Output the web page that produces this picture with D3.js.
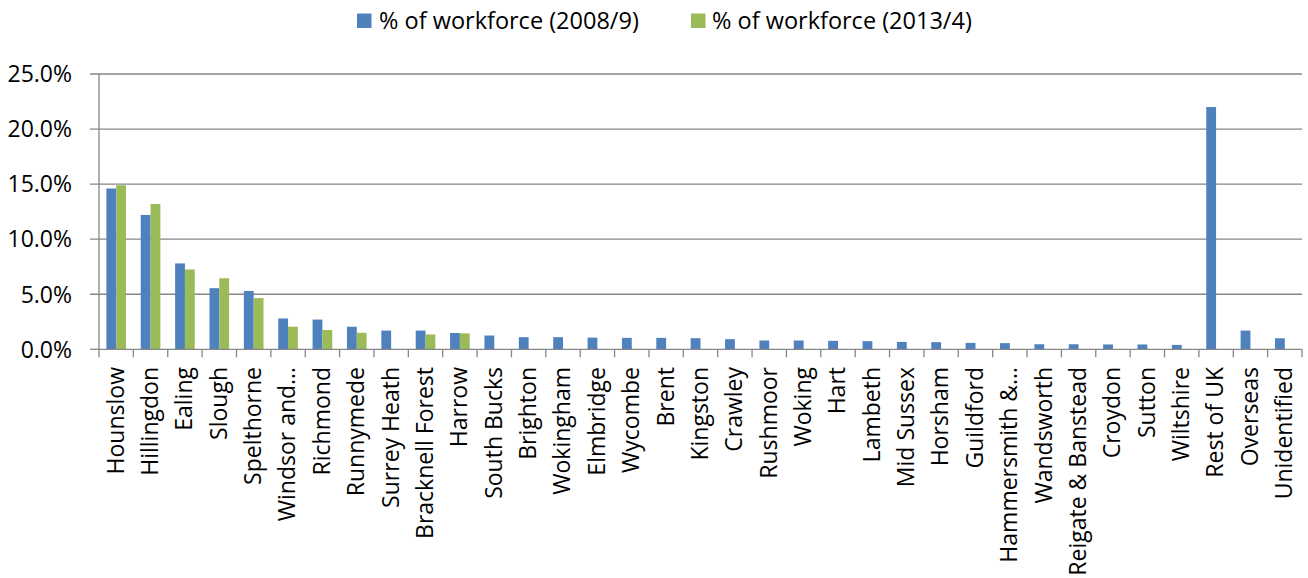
<!DOCTYPE html>
<html>
<head>
<meta charset="utf-8">
<script src="https://cdn.jsdelivr.net/npm/d3@7"></script>
<style>
  html, body { margin: 0; padding: 0; background: #fff; }
  svg { display: block; font-family: "Open Sans", sans-serif; }
</style>
</head>
<body>
<svg id="chart" width="1308" height="578"></svg>
<script>
const categories = ["Hounslow","Hillingdon","Ealing","Slough","Spelthorne","Windsor and…","Richmond","Runnymede","Surrey Heath","Bracknell Forest","Harrow","South Bucks","Brighton","Wokingham","Elmbridge","Wycombe","Brent","Kingston","Crawley","Rushmoor","Woking","Hart","Lambeth","Mid Sussex","Horsham","Guildford","Hammersmith &…","Wandsworth","Reigate & Banstead","Croydon","Sutton","Wiltshire","Rest of UK","Overseas","Unidentified"];
const seriesNames = ["% of workforce (2008/9)", "% of workforce (2013/4)"];
const values2008 = [14.6,12.2,7.8,5.55,5.3,2.8,2.7,2.05,1.7,1.7,1.48,1.25,1.1,1.1,1.06,1.04,1.04,1.01,0.92,0.8,0.8,0.77,0.74,0.67,0.65,0.58,0.56,0.46,0.46,0.44,0.44,0.4,22.0,1.7,1.0];
const values2013 = [14.9,13.2,7.25,6.45,4.65,2.05,1.75,1.5,null,1.35,1.45,null,null,null,null,null,null,null,null,null,null,null,null,null,null,null,null,null,null,null,null,null,null,null,null];
const yTicks = [0,5,10,15,20,25];
const colors = ["#4F81BD", "#9BBB59"];

(function () {
const svg = d3.select("#chart");
const mLeft = 99, mRight = 1302, mTop = 74, mBottom = 349.3;
const gridColor = "#868686";

const x = d3.scaleBand().domain(categories).range([mLeft, mRight]).padding(0);
const xs = d3.scaleBand().domain([0,1]).range([0, x.bandwidth()]).paddingInner(0).paddingOuter(0.75);
const y = d3.scaleLinear().domain([0,25]).range([mBottom, mTop]);

// gridlines
svg.append("g").selectAll("line").data(yTicks.filter(d => d > 0)).join("line")
  .attr("x1", mLeft - 9).attr("x2", mRight)
  .attr("y1", d => y(d)).attr("y2", d => y(d))
  .attr("stroke", gridColor).attr("stroke-width", 1.3);

// bars
const series = [values2008, values2013];
series.forEach((vals, si) => {
  svg.append("g").selectAll("rect")
    .data(categories.map((c, i) => ({c, v: vals[i]})).filter(d => d.v != null))
    .join("rect")
    .attr("x", d => x(d.c) + xs(si))
    .attr("width", xs.bandwidth())
    .attr("y", d => y(d.v))
    .attr("height", d => y(0) - y(d.v))
    .attr("fill", colors[si]);
});

// y axis
const yAxis = svg.append("g");
yAxis.append("line").attr("x1", mLeft).attr("x2", mLeft).attr("y1", mTop).attr("y2", mBottom + 8)
  .attr("stroke", gridColor).attr("stroke-width", 1.3);
yAxis.append("line").attr("x1", mLeft - 9).attr("x2", mLeft).attr("y1", y(0)).attr("y2", y(0))
  .attr("stroke", gridColor).attr("stroke-width", 1.3);
yAxis.selectAll("text").data(yTicks).join("text")
  .attr("x", 72).attr("y", d => y(d)).attr("dy", "0.36em")
  .attr("text-anchor", "end").attr("font-size", 23).attr("fill", "#000")
  .text(d => d.toFixed(1) + "%");

// x axis
const xAxis = svg.append("g");
xAxis.append("line").attr("x1", mLeft).attr("x2", mRight).attr("y1", y(0)).attr("y2", y(0))
  .attr("stroke", gridColor).attr("stroke-width", 1.3);
xAxis.selectAll("line.tick").data(categories).join("line").attr("class", "tick")
  .attr("x1", d => x(d) + x.bandwidth()).attr("x2", d => x(d) + x.bandwidth())
  .attr("y1", y(0)).attr("y2", y(0) + 8)
  .attr("stroke", gridColor).attr("stroke-width", 1.3);
xAxis.selectAll("text").data(categories).join("text")
  .attr("transform", d => `translate(${x(d) + x.bandwidth()/2},367) rotate(-90)`)
  .attr("dy", "0.32em")
  .attr("text-anchor", "end").attr("font-size", 23).attr("fill", "#000")
  .text(d => d);

// legend
const legendPos = [{sx: 357, tx: 379}, {sx: 691, tx: 712}];
const legend = svg.append("g");
seriesNames.forEach((name, i) => {
  legend.append("rect").attr("x", legendPos[i].sx).attr("y", 13.5).attr("width", 14.5).attr("height", 14.5).attr("fill", colors[i]);
  legend.append("text").attr("x", legendPos[i].tx).attr("y", 28.5).attr("font-size", 23.5).attr("fill", "#000").text(name);
});
})();
</script>
</body>
</html>
